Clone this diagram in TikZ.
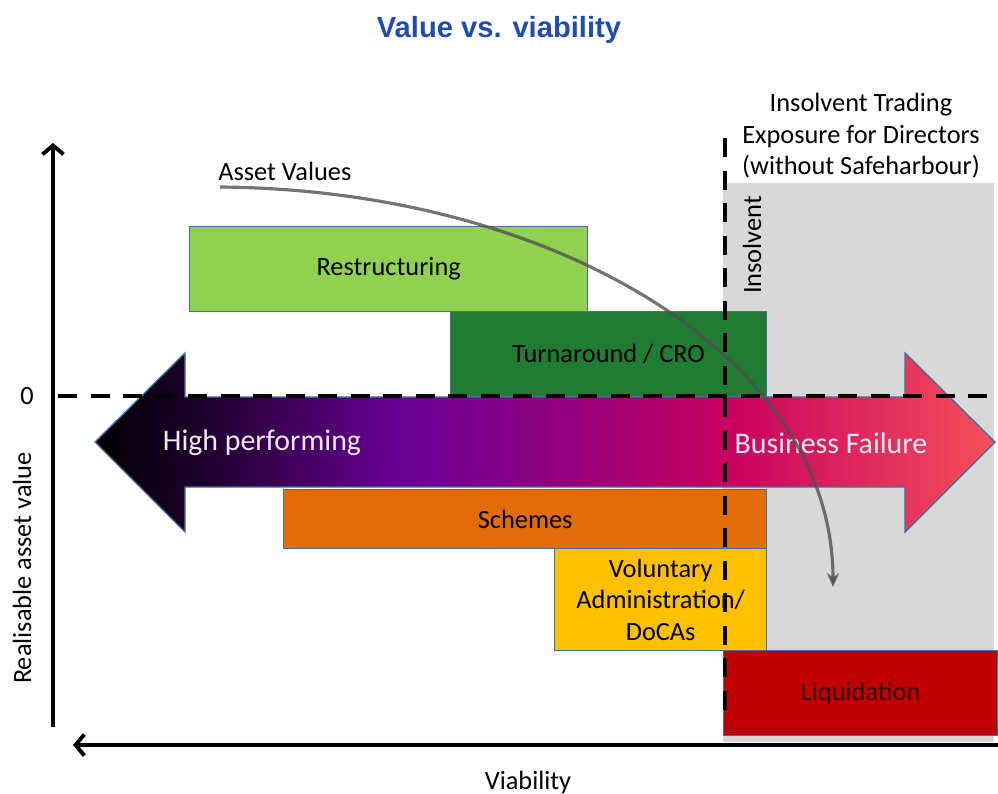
\documentclass[tikz,border=0pt]{standalone}
\usepackage{fontspec}
\setmainfont{Carlito}
\newfontfamily\titlefont{Liberation Sans}
\usetikzlibrary{arrows.meta}

\definecolor{restrgreen}{RGB}{146,208,80}
\definecolor{turngreen}{RGB}{32,124,50}
\definecolor{schemeorange}{RGB}{226,108,10}
\definecolor{vagold}{RGB}{255,192,0}
\definecolor{liqred}{RGB}{192,0,0}
\definecolor{liqtext}{RGB}{50,0,0}
\definecolor{edgeblue}{RGB}{65,113,156}
\definecolor{zonegray}{RGB}{216,216,216}
\definecolor{titleblue}{RGB}{35,75,175}
\definecolor{curvegray}{RGB}{80,80,80}
\definecolor{arrowtext}{RGB}{246,232,244}
\definecolor{shA}{RGB}{30,0,45}
\definecolor{shB}{RGB}{106,0,150}
\definecolor{shC}{RGB}{146,0,126}
\definecolor{shD}{RGB}{200,0,96}
\definecolor{shE}{RGB}{245,80,90}
\pgfdeclarehorizontalshading{viabshade}{100bp}{color(0bp)=(black); color(25bp)=(black);
  color(31bp)=(shA); color(42bp)=(shB); color(51bp)=(shC); color(60bp)=(shD);
  color(75bp)=(shE); color(100bp)=(shE)}

\begin{document}
\begin{tikzpicture}[x=0.02cm, y=-0.02cm,
    lbl/.style={font=\fontsize{15}{18}\selectfont, inner sep=0pt},
    box/.style={draw=edgeblue, line width=0.8pt, anchor=north west, inner sep=0pt,
      font=\fontsize{15}{18}\selectfont, text=black},
    arrowlbl/.style={font=\fontsize{17}{20}\selectfont, text=arrowtext, inner sep=0pt},
    axis/.style={line width=2.2pt, -{Straight Barb[length=5pt,width=12pt]}},
    zeroline/.style={line width=2.2pt, dash pattern=on 11pt off 7.5pt}]
  \useasboundingbox (0,0) rectangle (998,794);

  % insolvent zone
  \fill[zonegray] (723,183) rectangle (994,742);

  \node[font=\titlefont\fontsize{16.6}{20}\selectfont\bfseries, text=titleblue] (title) at (499,30) {Value vs. viability};

  % strategy boxes
  \node[box, fill=restrgreen, minimum width=7.96cm, minimum height=1.70cm] (restr) at (189,226) {Restructuring};
  \node[box, fill=turngreen, minimum width=6.32cm, minimum height=1.70cm] (turn) at (450,311) {Turnaround / CRO};
  \node[box, fill=schemeorange, minimum width=9.66cm, minimum height=1.18cm] (schemes) at (283,489) {Schemes};
  \node[box, fill=vagold, minimum width=4.24cm, minimum height=2.04cm, align=center] (vadmin) at (554,548) {Voluntary\\Administration/\\DoCAs};
  \node[box, fill=liqred, text=liqtext, minimum width=5.48cm, minimum height=1.70cm] (liq) at (723,650) {Liquidation};

  % performance arrow
  \draw[draw=edgeblue, line width=0.8pt, shading=viabshade]
    (95,442) -- (185,353) -- (185,397) -- (905,397) -- (905,353) -- (995,442)
    -- (905,532) -- (905,487) -- (185,487) -- (185,532) -- cycle;
  \node[arrowlbl] (hiperf) at (262,443) {High performing};
  \node[arrowlbl] (bizfail) at (831,443) {Business Failure};

  % zero and insolvency lines
  \coordinate (h0left) at (58,396);
  \coordinate (h0right) at (998,396);
  \coordinate (vtop) at (725,138);
  \coordinate (vbot) at (725,712);
  \draw[zeroline] (h0left) -- (h0right);
  \draw[zeroline] (vtop) -- (vbot);

  % axes
  \coordinate (yfoot) at (53,727);
  \coordinate (ytop) at (53,143);
  \coordinate (xright) at (998,745);
  \coordinate (xtip) at (73,745);
  \draw[axis] (yfoot) -- (ytop);
  \draw[axis] (xright) -- (xtip);
  \node[lbl] (zero) at (27,396) {0};
  \node[lbl, rotate=90] (yname) at (22,568) {Realisable asset value};
  \node[lbl] (xname) at (528,782) {Viability};

  % asset values curve
  \node[lbl, anchor=west] (avlbl) at (218,171) {Asset Values};
  \coordinate (avstart) at (220,187);
  \coordinate (avend) at (833,587);
  \draw[curvegray, opacity=0.8, line width=1.8pt, -{Stealth[length=8pt,width=7pt]}]
    (avstart) .. controls (560,190) and (833,360) .. (avend);

  \node[lbl, rotate=90] (insolv) at (752,245) {Insolvent};
  \node[lbl, align=center] (exposure) at (861,136) {Insolvent Trading\\Exposure for Directors\\(without Safeharbour)};
\end{tikzpicture}
\end{document}
